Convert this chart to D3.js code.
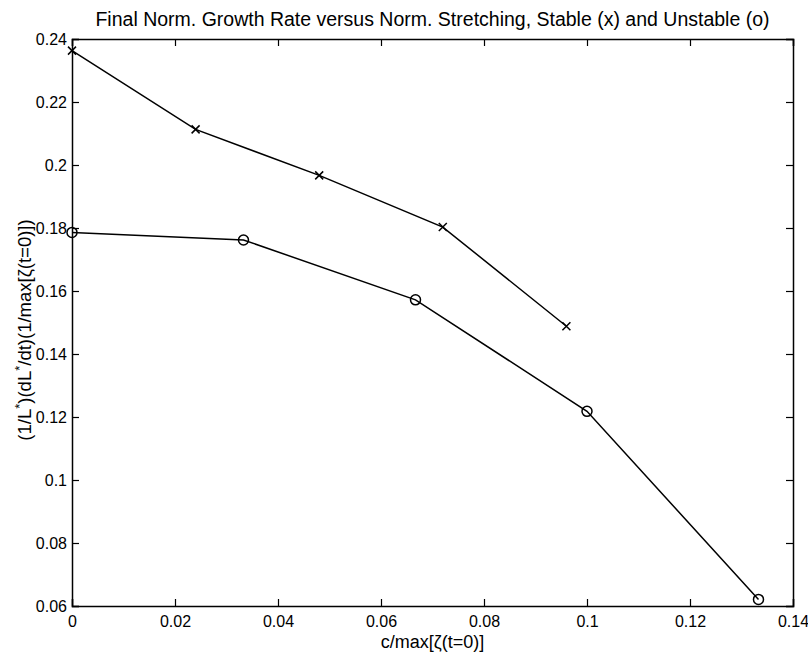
<!DOCTYPE html>
<html>
<head>
<meta charset="utf-8">
<script src="https://cdn.jsdelivr.net/npm/d3@7"></script>
<style>
  body { margin: 0; background: #fff; }
  text { font-family: "Liberation Sans", Arial, sans-serif; fill: #000; }
</style>
</head>
<body>
<svg id="chart" width="808" height="654"></svg>
<script>
// data
const stableX = [0, 0.024, 0.048, 0.072, 0.096];
const stableY = [0.2363, 0.2113, 0.1967, 0.1803, 0.1488];
const unstableX = [0, 0.0333, 0.0667, 0.1, 0.1333];
const unstableY = [0.1786, 0.1762, 0.1572, 0.1218, 0.0621];
const xTicks = [0, 0.02, 0.04, 0.06, 0.08, 0.1, 0.12, 0.14];
const yTicks = [0.06, 0.08, 0.1, 0.12, 0.14, 0.16, 0.18, 0.2, 0.22, 0.24];

const margin = { top: 39, right: 15, bottom: 48, left: 72 },
  width = 808 - margin.left - margin.right,
  height = 654 - margin.top - margin.bottom;

const svg = d3.select('#chart');
const g = svg.append('g')
  .attr('transform', 'translate(' + margin.left + ',' + margin.top + ')');

const x = d3.scaleLinear().domain([0, 0.14]).range([0, width]);
const y = d3.scaleLinear().domain([0.06, 0.24]).range([height, 0]);

const fmt = d => d3.format('')(+d.toFixed(2));
const tk = 7;

// axes: ticks point inward, as in matlab
g.append('g')
  .attr('transform', 'translate(0,' + height + ')')
  .call(d3.axisBottom(x).tickValues(xTicks).tickSize(-tk).tickPadding(10).tickFormat(fmt));
g.append('g')
  .call(d3.axisTop(x).tickValues(xTicks).tickSize(-tk).tickFormat(''));
g.append('g')
  .call(d3.axisLeft(y).tickValues(yTicks).tickSize(-tk).tickPadding(5).tickFormat(fmt));
g.append('g')
  .attr('transform', 'translate(' + width + ',0)')
  .call(d3.axisRight(y).tickValues(yTicks).tickSize(-tk).tickFormat(''));

g.selectAll('.domain').attr('stroke', '#000').attr('stroke-width', 1.5);
g.selectAll('.tick line').attr('stroke', '#000').attr('stroke-width', 1.2);
g.selectAll('.tick text').attr('font-size', 16).style('font-size', '16px')
  .style('font-family', '"Liberation Sans", Arial, sans-serif');

const line = d3.line().x(d => x(d[0])).y(d => y(d[1]));
const stable = stableX.map((v, i) => [v, stableY[i]]);
const unstable = unstableX.map((v, i) => [v, unstableY[i]]);

g.append('path').datum(stable).attr('d', line)
  .attr('fill', 'none').attr('stroke', '#000').attr('stroke-width', 1.5);
g.append('path').datum(unstable).attr('d', line)
  .attr('fill', 'none').attr('stroke', '#000').attr('stroke-width', 1.5);

// x markers
g.selectAll('.xm').data(stable).enter().append('path')
  .attr('transform', d => 'translate(' + x(d[0]) + ',' + y(d[1]) + ')')
  .attr('d', 'M-4,-4L4,4M-4,4L4,-4')
  .attr('stroke', '#000').attr('stroke-width', 1.5);

// o markers
g.selectAll('.om').data(unstable).enter().append('circle')
  .attr('cx', d => x(d[0])).attr('cy', d => y(d[1])).attr('r', 5)
  .attr('fill', 'none').attr('stroke', '#000').attr('stroke-width', 1.5);

// labels
svg.append('text')
  .attr('x', margin.left + width / 2).attr('y', 26)
  .attr('text-anchor', 'middle').style('font-size', '19.5px')
  .text('Final Norm. Growth Rate versus Norm. Stretching, Stable (x) and Unstable (o)');

svg.append('text')
  .attr('x', margin.left + width / 2).attr('y', 648)
  .attr('text-anchor', 'middle').style('font-size', '18px')
  .text('c/max[ζ(t=0)]');

const yl = svg.append('text')
  .attr('transform', 'translate(31,' + 330 + ') rotate(-90)')
  .attr('text-anchor', 'middle').style('font-size', '18.5px');
yl.append('tspan').text('(1/L');
yl.append('tspan').attr('dy', -7).style('font-size', '13px').text('*');
yl.append('tspan').attr('dy', 7).text(')(dL');
yl.append('tspan').attr('dy', -7).style('font-size', '13px').text('*');
yl.append('tspan').attr('dy', 7).text('/dt)(1/max[ζ(t=0)])');
</script>
</body>
</html>
